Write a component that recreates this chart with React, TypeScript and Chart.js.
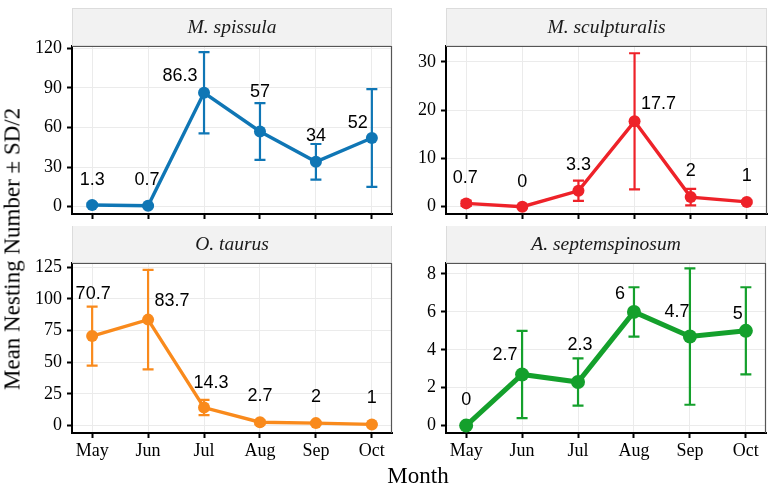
import { useEffect, useRef } from 'react'
import { Chart, registerables } from 'chart.js'

Chart.register(...registerables)

// data (mean, SD/2)
const months = ['May', 'Jun', 'Jul', 'Aug', 'Sep', 'Oct']

const spissulaMean = [1.3, 0.7, 86.3, 57, 34, 52]
const spissulaErr = [1.2, 0.6, 30.7, 21.5, 13.5, 37]
const sculpturalisMean = [0.7, 0, 3.3, 17.7, 2, 1]
const sculpturalisErr = [0.5, 0, 2.1, 14.1, 1.7, 0.3]
const taurusMean = [70.7, 83.7, 14.3, 2.7, 2, 1]
const taurusErr = [23.3, 39.3, 6, 1.5, 1, 0.5]
const septemMean = [0, 2.7, 2.3, 6, 4.7, 5]
const septemErr = [0, 2.3, 1.25, 1.3, 3.6, 2.3]

const spissulaTicks = [0, 30, 60, 90, 120]
const sculpturalisTicks = [0, 10, 20, 30]
const taurusTicks = [0, 25, 50, 75, 100, 125]
const septemTicks = [0, 2, 4, 6, 8]

const SERIF = "'Liberation Serif', 'Times New Roman', serif"
const SANS = "'Liberation Sans', Arial, sans-serif"

interface PanelSpec {
  title: string
  mean: number[]
  err: number[]
  ticks: number[]
  yMin: number
  yMax: number
  color: string
  lineWidth: number
  radius: number
  nudge: [number, number][]
  left: number
  top: number
  width: number
  height: number
  yWidth: number
  padTop: number
  padRight: number
  xHeight: number
  showX: boolean
}

const STRIP_H = 38

const panels: PanelSpec[] = [
  {
    title: 'M. spissula', mean: spissulaMean, err: spissulaErr, ticks: spissulaTicks,
    yMin: -5.5, yMax: 121.7, color: '#0f76b5', lineWidth: 3.4, radius: 6,
    nudge: [[0, -25], [-1, -26], [-24, -17], [0, -39], [0, -26], [-14, -15]],
    left: 0, top: 0, width: 400, height: 226, yWidth: 72, padTop: 46, padRight: 8, xHeight: 12, showX: false,
  },
  {
    title: 'M. sculpturalis', mean: sculpturalisMean, err: sculpturalisErr, ticks: sculpturalisTicks,
    yMin: -1.5, yMax: 33.3, color: '#ee2229', lineWidth: 3.4, radius: 6,
    nudge: [[-1, -25], [0, -25], [0, -26], [24, -17], [0, -26], [0, -26]],
    left: 400, top: 0, width: 373, height: 226, yWidth: 46, padTop: 46, padRight: 6, xHeight: 12, showX: false,
  },
  {
    title: 'O. taurus', mean: taurusMean, err: taurusErr, ticks: taurusTicks,
    yMin: -5.8, yMax: 128.4, color: '#f98a1c', lineWidth: 3.4, radius: 6,
    nudge: [[1, -42], [24, -19], [7, -25], [0, -26], [0, -26], [0, -26]],
    left: 0, top: 226, width: 400, height: 263, yWidth: 72, padTop: 37, padRight: 8, xHeight: 56, showX: true,
  },
  {
    title: 'A. septemspinosum', mean: septemMean, err: septemErr, ticks: septemTicks,
    yMin: -0.39, yMax: 8.58, color: '#14a02c', lineWidth: 5, radius: 7,
    nudge: [[0, -26], [-17, -19], [2, -37], [-14, -18], [-13, -25], [-8, -17]],
    left: 400, top: 226, width: 373, height: 263, yWidth: 46, padTop: 37, padRight: 6, xHeight: 56, showX: true,
  },
]

function Panel({ p }: { p: PanelSpec }) {
  const canvasRef = useRef<HTMLCanvasElement>(null)

  useEffect(() => {
    if (!canvasRef.current) return

    const decor = {
      id: 'decor',
      beforeDatasetsDraw(chart: any) {
        const { ctx } = chart
        const xs = chart.scales.x
        const ys = chart.scales.y
        ctx.save()
        ctx.strokeStyle = p.color
        ctx.lineWidth = 2.2
        p.mean.forEach((m, i) => {
          const e = p.err[i]
          if (!e) return
          const x = xs.getPixelForValue(i)
          const y1 = ys.getPixelForValue(m + e)
          const y2 = ys.getPixelForValue(m - e)
          ctx.beginPath()
          ctx.moveTo(x, y1)
          ctx.lineTo(x, y2)
          ctx.moveTo(x - 5.5, y1)
          ctx.lineTo(x + 5.5, y1)
          ctx.moveTo(x - 5.5, y2)
          ctx.lineTo(x + 5.5, y2)
          ctx.stroke()
        })
        ctx.restore()
      },
      afterDatasetsDraw(chart: any) {
        const { ctx } = chart
        const xs = chart.scales.x
        const ys = chart.scales.y
        ctx.save()
        ctx.fillStyle = '#000'
        ctx.font = `18px ${SANS}`
        ctx.textAlign = 'center'
        ctx.textBaseline = 'middle'
        p.mean.forEach((m, i) => {
          const [dx, dy] = p.nudge[i]
          ctx.fillText(String(m), xs.getPixelForValue(i) + dx, ys.getPixelForValue(m) + dy)
        })
        ctx.restore()
      },
      afterDraw(chart: any) {
        const { ctx } = chart
        const { left, right, top, bottom } = chart.chartArea
        ctx.save()
        // strip
        const sTop = top - STRIP_H
        ctx.fillStyle = '#f2f2f2'
        ctx.fillRect(left, sTop, right - left, STRIP_H)
        ctx.strokeStyle = '#dcdcdc'
        ctx.lineWidth = 1
        ctx.strokeRect(left + 0.5, sTop + 0.5, right - left - 1, STRIP_H - 1)
        ctx.fillStyle = '#1a1a1a'
        ctx.font = `italic 19.5px ${SERIF}`
        ctx.textAlign = 'center'
        ctx.textBaseline = 'middle'
        ctx.fillText(p.title, (left + right) / 2, sTop + STRIP_H / 2 + 1)
        // panel border top/right
        ctx.strokeStyle = '#555'
        ctx.lineWidth = 1.2
        ctx.beginPath()
        ctx.moveTo(left, top + 0.5)
        ctx.lineTo(right - 0.5, top + 0.5)
        ctx.lineTo(right - 0.5, bottom)
        ctx.stroke()
        ctx.restore()
      },
    }

    const chart = new Chart(canvasRef.current, {
      type: 'line',
      data: {
        datasets: [{
          data: p.mean.map((v, i) => ({ x: i, y: v })),
          borderColor: p.color,
          backgroundColor: p.color,
          borderWidth: p.lineWidth,
          pointRadius: p.radius,
          pointBorderWidth: 0,
          pointBackgroundColor: p.color,
          tension: 0,
        }],
      },
      options: {
        responsive: false,
        animation: false,
        layout: { padding: { top: p.padTop, right: p.padRight, left: 0, bottom: 0 } },
        plugins: { legend: { display: false }, tooltip: { enabled: false } },
        scales: {
          x: {
            type: 'linear',
            min: -0.36,
            max: 5.36,
            bounds: 'data',
            afterBuildTicks: (s: any) => { s.ticks = months.map((_, i) => ({ value: i })) },
            afterFit: (s: any) => { s.height = p.xHeight; s.paddingLeft = 0; s.paddingRight = 0 },
            ticks: {
              display: p.showX,
              autoSkip: false,
              maxRotation: 0,
              padding: 2,
              color: '#000',
              font: { family: SERIF, size: 18 },
              callback: (v: any) => months[v as number],
            },
            grid: { color: '#ebebeb', lineWidth: 1, tickColor: '#000', tickWidth: 2, tickLength: 5 },
            border: { display: true, color: '#000', width: 2 },
          },
          y: {
            type: 'linear',
            min: p.yMin,
            max: p.yMax,
            bounds: 'data',
            afterBuildTicks: (s: any) => { s.ticks = p.ticks.map((v) => ({ value: v })) },
            afterFit: (s: any) => { s.width = p.yWidth; s.paddingTop = 0; s.paddingBottom = 0 },
            ticks: {
              padding: 5,
              color: '#000',
              font: { family: SERIF, size: 18 },
              callback: (v: any) => String(v),
            },
            grid: { color: '#ebebeb', lineWidth: 1, tickColor: '#000', tickWidth: 2, tickLength: 5 },
            border: { display: true, color: '#000', width: 2 },
          },
        },
      },
      plugins: [decor],
    })

    return () => { chart.destroy() }
  }, [p])

  return (
    <div style={{ position: 'absolute', left: p.left, top: p.top, width: p.width, height: p.height }}>
      <canvas ref={canvasRef} width={p.width} height={p.height} style={{ display: 'block' }} />
    </div>
  )
}

export default function App() {
  return (
    <div style={{ position: 'absolute', left: 0, top: 0, width: 773, height: 489, background: '#fff', overflow: 'hidden' }}>
      {panels.map((p) => <Panel key={p.title} p={p} />)}
      <div
        style={{
          position: 'absolute', left: 12, top: 249, transform: 'translate(-50%, -50%) rotate(-90deg)',
          whiteSpace: 'nowrap', font: `23px ${SERIF}`, lineHeight: '23px', color: '#000',
        }}
      >
        Mean Nesting Number ± SD/2
      </div>
      <div
        style={{
          position: 'absolute', left: 418, top: 464, transform: 'translateX(-50%)',
          whiteSpace: 'nowrap', font: `23px ${SERIF}`, lineHeight: '23px', color: '#000',
        }}
      >
        Month
      </div>
    </div>
  )
}
